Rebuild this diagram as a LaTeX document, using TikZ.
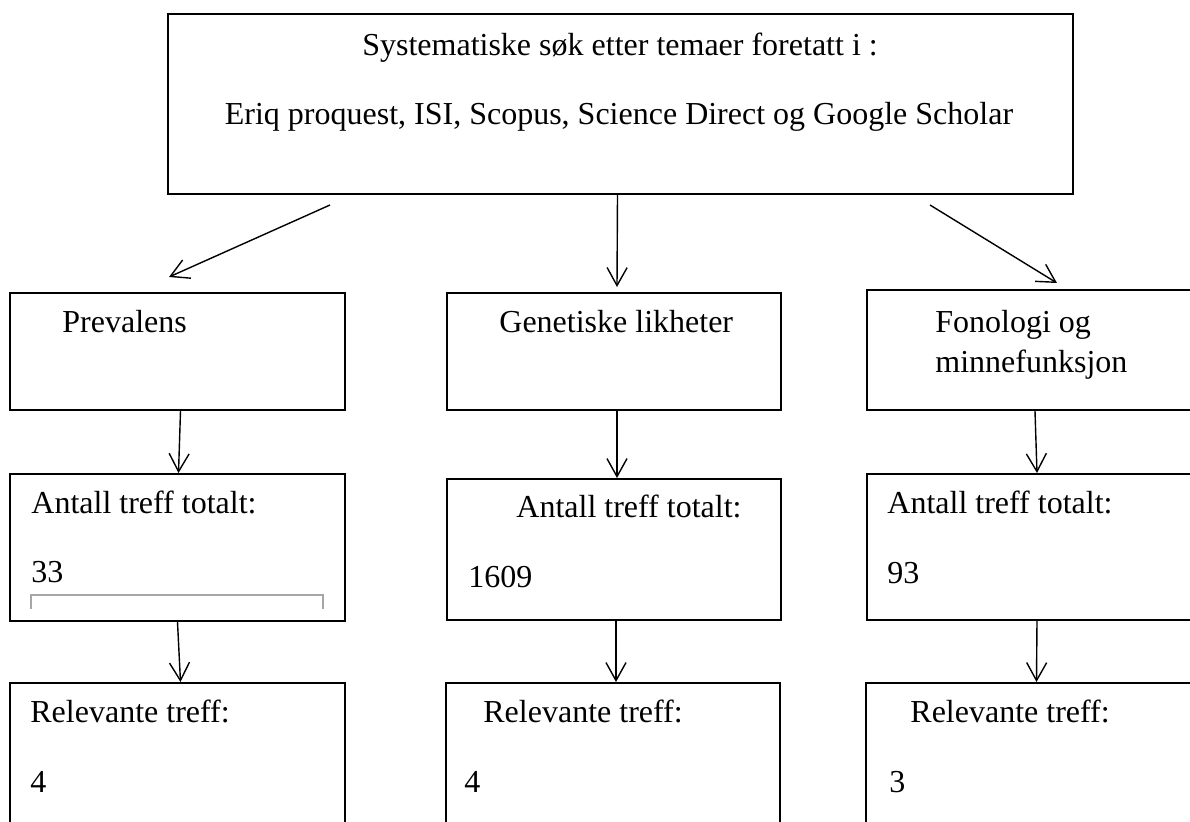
\documentclass[tikz,border=0pt]{standalone}
\usepackage{fontspec}
\setmainfont{Liberation Serif}
\usetikzlibrary{arrows.meta,calc}

\begin{document}
\begin{tikzpicture}[x=0.5pt, y=-0.5pt, >={Straight Barb[length=9pt,width=10pt]},
	   font=\fontsize{16}{20}\selectfont,
	   b/.style={draw, line width=1pt, inner sep=0pt, anchor=north west},
	   t/.style={anchor=base west, inner sep=0pt},
	   a/.style={->, line width=0.7pt}]
	  \useasboundingbox (0,0) rectangle (1190,821);
	  \clip (0,0) rectangle (1190,821);
	  \node[b, minimum width=452.5pt, minimum height=90pt] (top) at (167,13) {};
	  \node[anchor=base, inner sep=0pt] (sys) at (620,55) {Systematiske søk etter temaer foretatt i :};
	  \node[anchor=base, inner sep=0pt] (db) at (619,124) {Eriq proquest, ISI, Scopus, Science Direct og Google Scholar};
	  \node[b, minimum width=167.5pt, minimum height=58.5pt] (prev) at (9,292) {};
	  \node[b, minimum width=167pt, minimum height=58.5pt] (gen) at (446,292) {};
	  \node[b, minimum width=167pt, minimum height=60pt] (fon) at (866,289) {};
	  \node[t] (tprev) at (62,332) {Prevalens};
	  \node[t] (tgen) at (499,332) {Genetiske likheter};
	  \node[t] (tfon1) at (935,332) {Fonologi og};
	  \node[t] (tfon2) at (935,372) {minnefunksjon};
	  \node[b, minimum width=167.5pt, minimum height=73.5pt] (ant1) at (9,473) {};
	  \node[b, minimum width=167pt, minimum height=70.5pt] (ant2) at (446,478) {};
	  \node[b, minimum width=167pt, minimum height=73pt] (ant3) at (866,473) {};
	  \node[t] (tant1) at (31,513) {Antall treff totalt:};
	  \node[t] (nant1) at (31,582) {33};
	  \node[t] (tant2) at (516,517) {Antall treff totalt:};
	  \node[t] (nant2) at (468,587) {1609};
	  \node[t] (tant3) at (887,513) {Antall treff totalt:};
	  \node[t] (nant3) at (887,583) {93};
	  \draw[gray!70, line width=1pt] (31,609) -- (31,595) -- (323,595) -- (323,609);
	  \node[b, minimum width=167.5pt, minimum height=74pt] (rel1) at (9,682) {};
	  \node[b, minimum width=167pt, minimum height=74pt] (rel2) at (445,682) {};
	  \node[b, minimum width=167.5pt, minimum height=74pt] (rel3) at (865,682) {};
	  \node[t] (trel1) at (30,722) {Relevante treff:};
	  \node[t] (nrel1) at (30,792) {4};
	  \node[t] (trel2) at (483,722) {Relevante treff:};
	  \node[t] (nrel2) at (464,792) {4};
	  \node[t] (trel3) at (910,722) {Relevante treff:};
	  \node[t] (nrel3) at (889,792) {3};
	  \draw[a] ($(top.south west)+(163,10)$) -- ($(prev.north west)+(160,-15)$);
	  \draw[a] ($(top.south)+(-3,0)$) -- ($(gen.north)+(3,-5)$);
	  \draw[a] ($(top.south east)+(-144,10)$) -- ($(fon.north west)+(191,-6)$);
	  \draw[a] ($(prev.south)+(3,0)$) -- ($(ant1.north)+(1,0)$);
	  \draw[a] ($(gen.south)+(3,0)$) -- ($(ant2.north)+(3,0)$);
	  \draw[a] ($(fon.south)+(1,0)$) -- ($(ant3.north)+(3,0)$);
	  \draw[a] ($(ant1.south)+(0,0)$) -- ($(rel1.north)+(3,0)$);
	  \draw[a] ($(ant2.south)+(2,0)$) -- ($(rel2.north)+(3,0)$);
	  \draw[a] ($(ant3.south)+(3,0)$) -- ($(rel3.north)+(3,0)$);
	\end{tikzpicture}
\end{document}
